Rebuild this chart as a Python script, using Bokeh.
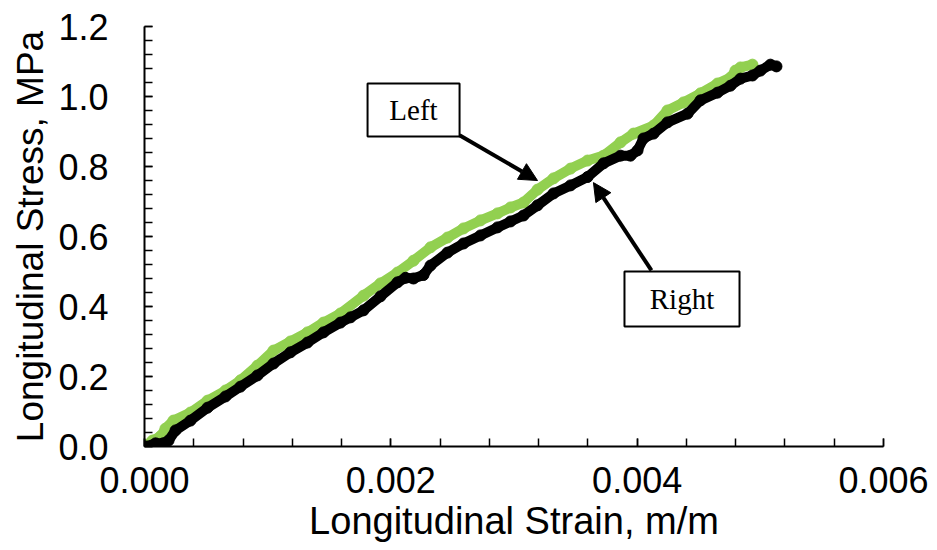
from bokeh.plotting import figure
from bokeh.models import (Range1d, FixedTicker, NumeralTickFormatter, BoxAnnotation,
                          Label, Arrow, NormalHead, ColumnDataSource)
from bokeh.embed import file_html
from bokeh.resources import INLINE

# ---- data ----
left_strain = [0.00001, 0.000065, 0.00013, 0.00017, 0.000235, 0.000373, 0.000512, 0.000658,
               0.000779, 0.000917, 0.001047, 0.001185, 0.001323, 0.001453, 0.001591, 0.001778,
               0.001916, 0.002054, 0.002184, 0.002322, 0.00246, 0.00259, 0.002728, 0.002866,
               0.002972, 0.003077, 0.003191, 0.003321, 0.003459, 0.003597, 0.003727, 0.003865,
               0.00397, 0.004133, 0.004246, 0.004376, 0.004514, 0.004652, 0.004758, 0.004798,
               0.004839, 0.004936]
left_stress = [0.003, 0.017, 0.029, 0.051, 0.074, 0.097, 0.131, 0.160,
               0.189, 0.231, 0.274, 0.300, 0.326, 0.354, 0.380, 0.431,
               0.466, 0.497, 0.531, 0.569, 0.597, 0.623, 0.646, 0.666,
               0.683, 0.697, 0.734, 0.766, 0.794, 0.817, 0.831, 0.869,
               0.894, 0.917, 0.960, 0.983, 1.009, 1.037, 1.054, 1.074,
               1.083, 1.091]

right_strain = [0.00001, 0.00009, 0.00015, 0.000195, 0.000252, 0.000373, 0.000512, 0.000658,
                0.000779, 0.000917, 0.001047, 0.001185, 0.001323, 0.001453, 0.001591, 0.001673,
                0.001778, 0.001916, 0.002054, 0.002119, 0.002184, 0.002265, 0.002322, 0.00246,
                0.00259, 0.002728, 0.002866, 0.002972, 0.003077, 0.003191, 0.003321, 0.003459,
                0.003597, 0.003727, 0.003865, 0.003946, 0.004003, 0.004051, 0.004133, 0.004246,
                0.004409, 0.004514, 0.004652, 0.004758, 0.004839, 0.004936, 0.005001, 0.005082,
                0.005131]
right_stress = [0.000, 0.009, 0.009, 0.017, 0.046, 0.074, 0.111, 0.143,
                0.171, 0.203, 0.237, 0.269, 0.297, 0.326, 0.354, 0.369,
                0.389, 0.429, 0.469, 0.482, 0.480, 0.490, 0.517, 0.554,
                0.580, 0.603, 0.626, 0.643, 0.660, 0.689, 0.723, 0.746,
                0.770, 0.809, 0.831, 0.831, 0.846, 0.880, 0.894, 0.926,
                0.951, 0.989, 1.011, 1.031, 1.051, 1.060, 1.074, 1.091,
                1.086]

x_major = [0.0, 0.002, 0.004, 0.006]
y_major = [0.0, 0.2, 0.4, 0.6, 0.8, 1.0, 1.2]
x_minor = [i * 0.0004 for i in range(16)]
y_minor = [i * 0.04 for i in range(31)]

GREEN = "#92D050"
FONT = "Liberation Sans"

p = figure(width=930, height=548, output_backend="svg", toolbar_location=None,
           x_range=Range1d(0, 0.006), y_range=Range1d(0, 1.2),
           min_border_left=144, min_border_right=47, min_border_top=26, min_border_bottom=102)
p.outline_line_color = None
p.grid.visible = False
p.background_fill_color = "white"
p.border_fill_color = "white"

src_l = ColumnDataSource(dict(x=left_strain, y=left_stress))
src_r = ColumnDataSource(dict(x=right_strain, y=right_stress))

p.line("x", "y", source=src_l, line_color=GREEN, line_width=10, line_join="round", line_cap="round")
p.scatter("x", "y", source=src_l, size=11, fill_color=GREEN, line_color=GREEN)
p.line("x", "y", source=src_r, line_color="black", line_width=10, line_join="round", line_cap="round")
p.scatter("x", "y", source=src_r, size=11, fill_color="black", line_color="black")

p.xaxis.ticker = FixedTicker(ticks=x_major, minor_ticks=x_minor)
p.yaxis.ticker = FixedTicker(ticks=y_major, minor_ticks=y_minor)
p.xaxis.formatter = NumeralTickFormatter(format="0.000")
p.yaxis.formatter = NumeralTickFormatter(format="0.0")

for ax in (p.xaxis[0], p.yaxis[0]):
    ax.axis_line_color = "black"
    ax.axis_line_width = 2
    ax.major_tick_in = 8
    ax.major_tick_out = 0
    ax.minor_tick_in = 8
    ax.minor_tick_out = 0
    ax.major_tick_line_width = 1.5
    ax.minor_tick_line_width = 1.5
    ax.major_tick_line_color = "black"
    ax.minor_tick_line_color = "black"
    ax.major_label_text_font = FONT
    ax.major_label_text_font_size = "36px"
    ax.major_label_text_color = "black"
    ax.axis_label_text_font = FONT
    ax.axis_label_text_font_style = "normal"
    ax.axis_label_text_color = "black"

p.xaxis.axis_label = "Longitudinal Strain, m/m"
p.yaxis.axis_label = "Longitudinal Stress, MPa"
p.xaxis.axis_label_text_font_size = "38px"
p.yaxis.axis_label_text_font_size = "37px"
p.xaxis.major_label_standoff = 20
p.xaxis.axis_label_standoff = 4
p.yaxis.major_label_standoff = 36
p.yaxis.axis_label_standoff = 4

# ---- annotations ----
p.add_layout(Arrow(end=NormalHead(size=18, fill_color="black", line_color="black"),
                   x_start=0.002558, y_start=0.889, x_end=0.003191, y_end=0.760,
                   line_width=4, line_color="black"))
p.add_layout(Arrow(end=NormalHead(size=18, fill_color="black", line_color="black"),
                   x_start=0.004116, y_start=0.503, x_end=0.003645, y_end=0.754,
                   line_width=4, line_color="black"))

p.add_layout(BoxAnnotation(left=0.001811, right=0.002558, bottom=0.886, top=1.037,
                           fill_color="white", fill_alpha=1, line_color="black",
                           line_alpha=1, line_width=2))
p.add_layout(BoxAnnotation(left=0.003897, right=0.004831, bottom=0.343, top=0.500,
                           fill_color="white", fill_alpha=1, line_color="black",
                           line_alpha=1, line_width=2))
p.add_layout(Label(x=0.002184, y=0.961, text="Left", text_font="Liberation Serif",
                   text_font_size="29px", text_align="center", text_baseline="middle",
                   text_color="black"))
p.add_layout(Label(x=0.004364, y=0.421, text="Right", text_font="Liberation Serif",
                   text_font_size="29px", text_align="center", text_baseline="middle",
                   text_color="black"))

open("out.html", "w").write(file_html(p, INLINE))
